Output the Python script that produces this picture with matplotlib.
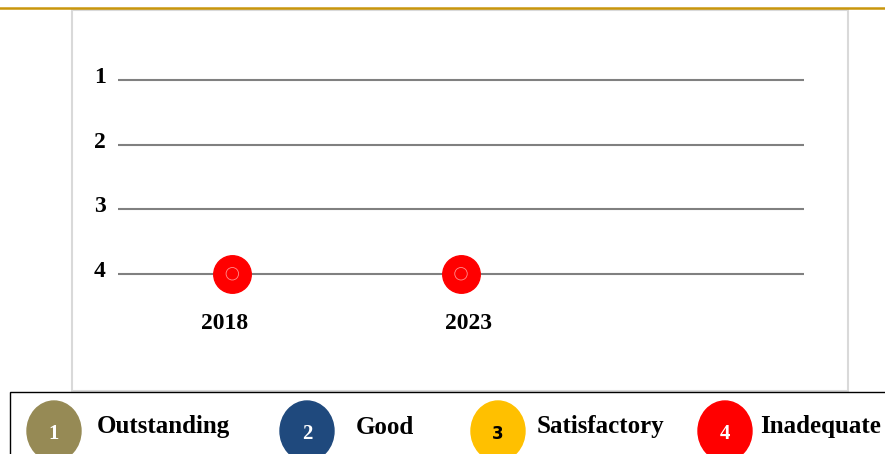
import matplotlib.pyplot as plt
from matplotlib.patches import Rectangle, Ellipse
from matplotlib.lines import Line2D
from matplotlib.transforms import ScaledTranslation

# data
years = [2018, 2023]
ratings = [4, 4]
levels = [1, 2, 3, 4]
legend_labels = ['Outstanding', 'Good', 'Satisfactory', 'Inadequate']
legend_colors = ['#968a55', '#1f497d', '#ffc000', '#ff0000']
legend_numcolors = ['white', 'white', 'black', 'white']

W, H = 885, 454
fig = plt.figure(figsize=(W / 100, H / 100), dpi=100)
plt.rcParams['font.family'] = ['Liberation Serif', 'DejaVu Serif']

def px(x, y):
    return x / W, 1 - y / H

# gold rule at top
fig.add_artist(Line2D([0, 1], [1 - 7.5 / H] * 2, color='#c9960c', lw=1.8,
                      transform=fig.transFigure))
# chart frame
fig.add_artist(Rectangle(px(72, 391), 776 / W, 381 / H, transform=fig.transFigure,
                         fill=False, ec='#d9d9d9', lw=1.5))

# axes: y=0.5 at 48px, y=4.5 at 306px
top, bot = 48, 306
ax = fig.add_axes([118 / W, 1 - bot / H, (804 - 118) / W, (bot - top) / H])
ax.set_xlim(2015.5, 2030.5)
ax.set_ylim(4.5, 0.5)
for lv in levels:
    ax.axhline(lv, color='#808080', lw=1.5, zorder=1)
ax.scatter(years, ratings, s=27 ** 2, color='#ff0000', zorder=3, clip_on=False)
ax.scatter(years, ratings, s=9 ** 2, facecolor='none', edgecolor='#ff9090',
           lw=0.6, zorder=4, clip_on=False)
ax.set_yticks(levels)
ax.set_yticklabels([str(l) for l in levels], fontsize=17, fontweight='bold')
ax.set_xticks(years)
ax.set_xticklabels([str(y) for y in years], fontsize=17, fontweight='bold')
ax.tick_params(length=0, pad=9)
ax.tick_params(axis='x', pad=5)
for lab in ax.get_yticklabels():
    lab.set_transform(lab.get_transform() + ScaledTranslation(0, 5 / 100, fig.dpi_scale_trans))
x_shift = [-8, 7]
for lab, dx in zip(ax.get_xticklabels(), x_shift):
    lab.set_transform(lab.get_transform() + ScaledTranslation(dx / 100, 0, fig.dpi_scale_trans))
for s in ax.spines.values():
    s.set_visible(False)

# legend box
fig.add_artist(Rectangle(px(10, 470), 900 / W, 78 / H, transform=fig.transFigure,
                         fill=False, ec='black', lw=1.0))
circ_x = [54, 307, 498, 725]
text_x = [97, 356, 537, 760]
for i in range(4):
    cx, cy = px(circ_x[i], 431)
    fig.add_artist(Ellipse((cx, cy), 54 / W, 60 / H, transform=fig.transFigure,
                           color=legend_colors[i]))
    if i == 2:
        fig.text(cx, cy - 3 / H, str(i + 1), ha='center', va='center', fontsize=12,
                 fontweight='bold', family='DejaVu Sans', color=legend_numcolors[i])
    else:
        fig.text(cx, cy - 3 / H, str(i + 1), ha='center', va='center', fontsize=15,
                 fontweight='bold', color=legend_numcolors[i])
    tx, ty = px(text_x[i], 427)
    fig.text(tx, ty, legend_labels[i], ha='left', va='center', fontsize=18,
             fontweight='bold', color='black')

fig.savefig('out.png', dpi=100)
